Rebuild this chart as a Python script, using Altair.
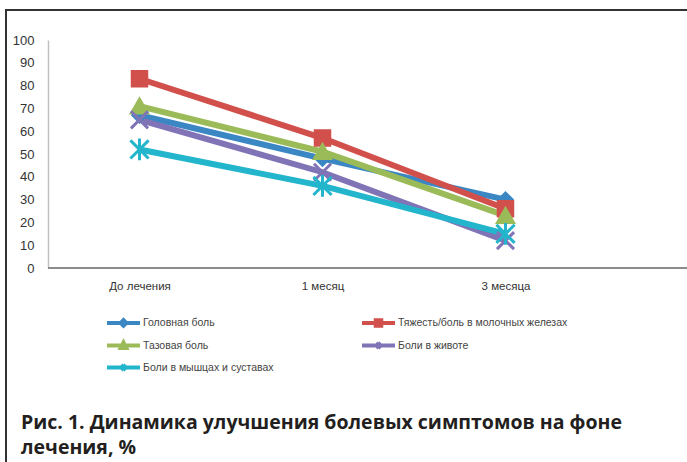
import altair as alt
import pandas as pd

categories = ["До лечения", "1 месяц", "3 месяца"]
series = ["Головная боль", "Тяжесть/боль в молочных железах", "Тазовая боль",
          "Боли в животе", "Боли в мышцах и суставах"]
v_head = [67, 48, 30]
v_breast = [83, 57, 26]
v_pelvic = [71, 51, 23]
v_abdomen = [65, 42, 12]
v_muscle = [52, 36, 15]
colors = ["#3b87c4", "#d2504c", "#9bbb59", "#8073b6", "#23b5cc"]
shapes = ["diamond", "square", "triangle-up",
          "M-1,-1L1,1M-1,1L1,-1",
          "M-1,-1L1,1M-1,1L1,-1M0,-1.2L0,1.2"]
legend_shapes = [
    "M-3,0H3M-0.5,0L0,-0.5L0.5,0L0,0.5Z",
    "M-3,0H3M-0.5,-0.5H0.5V0.5H-0.5Z",
    "M-3,0H3M-0.5,0.45L0,-0.55L0.5,0.45Z",
    "M-3,0H3M-0.45,-0.45L0.45,0.45M-0.45,0.45L0.45,-0.45",
    "M-3,0H3M-0.45,-0.45L0.45,0.45M-0.45,0.45L0.45,-0.45M0,-0.55V0.55",
]

rows = []
for s, vals in zip(series, [v_head, v_breast, v_pelvic, v_abdomen, v_muscle]):
    for c, v in zip(categories, vals):
        rows.append({"series": s, "cat": c, "value": v, "order": series.index(s)})
df = pd.DataFrame(rows)

W, H = 639, 228

x = alt.X("cat:N", sort=categories, title=None,
          scale=alt.Scale(domain=categories, range=[0, 549]),
          axis=alt.Axis(labelAngle=0, labelFontSize=11.5, labelColor="#333333",
                        labelFont="Liberation Sans", labelPadding=12, ticks=False,
                        domain=False))
y = alt.Y("value:Q", title=None,
          scale=alt.Scale(domain=[0, 100], nice=False),
          axis=alt.Axis(values=list(range(0, 101, 10)), grid=False, ticks=False,
                        domainColor="#c0c0c0", domainWidth=1.5, labelPadding=14,
                        labelFontSize=13, labelColor="#333333", labelFont="Liberation Sans"))

cscale = alt.Scale(domain=series, range=colors)

lines = alt.Chart(df).mark_line(strokeWidth=6).encode(
    x=x, y=y, color=alt.Color("series:N", scale=cscale, legend=None),
    detail="series:N", order=alt.Order("order:Q"))

points = alt.Chart(df).mark_point(filled=False, opacity=1, strokeWidth=3).encode(
    x=x, y=y,
    color=alt.Color("series:N", scale=cscale, legend=None),
    fill=alt.Fill("series:N", scale=cscale, legend=None),
    shape=alt.Shape("series:N", scale=alt.Scale(domain=series, range=shapes), legend=None),
    size=alt.Size("series:N", scale=alt.Scale(domain=series, range=[170, 330, 230, 170, 210]),
                  legend=None),
    order=alt.Order("order:Q"))

leg = alt.Legend(orient="none", legendX=68, legendY=275, columns=2,
                 direction="horizontal", columnPadding=80, rowPadding=0,
                 symbolSize=121, symbolStrokeWidth=4, symbolOpacity=1,
                 labelFontSize=10.5, labelColor="#444444", labelFont="Liberation Sans",
                 labelOffset=12, title=None, labelLimit=300)

legend_layer = alt.Chart(df).transform_filter(alt.datum.value < 0).mark_point(
    filled=False, strokeWidth=4).encode(
    x=x, y=y,
    color=alt.Color("series:N", scale=alt.Scale(domain=series, range=colors), legend=leg),
    fill=alt.Fill("series:N", scale=alt.Scale(domain=series, range=colors), legend=leg),
    shape=alt.Shape("series:N", scale=alt.Scale(domain=series, range=legend_shapes), legend=leg),
)

axis_line = alt.Chart(df).mark_rule(color="#8c8c8c", strokeWidth=1.5).encode(
    x=alt.value(0), x2=alt.value(W), y=alt.value(H))

frame = alt.Chart(df).mark_rect(fill=None, stroke="#333333", strokeWidth=1.5).encode(
    x=alt.value(-42), x2=alt.value(W + 20), y=alt.value(-30), y2=alt.value(H + 200))

chart = alt.layer(frame, axis_line, lines, points, legend_layer).properties(
    width=W, height=H,
    title=alt.TitleParams(
        ["Рис. 1. Динамика улучшения болевых симптомов на фоне", "лечения, %"],
        orient="bottom", anchor="start", frame="group", offset=-55, dx=-27,
        fontSize=19.5, font="Open Sans", fontWeight="bold", color="#231f20",
        lineHeight=25),
    autosize=alt.AutoSizeParams(type="none"),
    padding={"left": 48, "top": 40, "right": 0, "bottom": 194},
).configure_view(stroke=None).resolve_scale(shape="independent", color="independent",
                                             fill="independent")

chart.save("out.html", embed_options={"renderer": "svg", "actions": False})
